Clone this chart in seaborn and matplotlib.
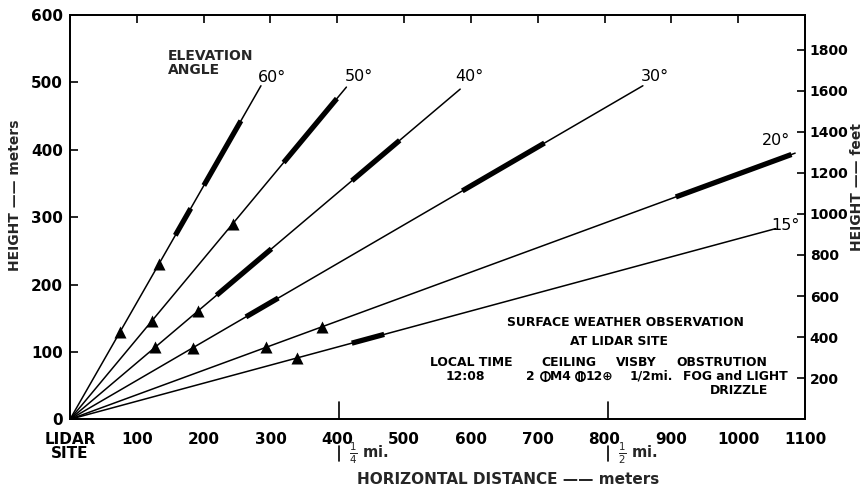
import numpy as np
import pandas as pd
import matplotlib
matplotlib.use("Agg")
import matplotlib.pyplot as plt
from matplotlib.path import Path
import seaborn as sns

# ---------------- data ----------------
angles = [60, 50, 40, 30, 20, 15]
angle_labels = ["60°", "50°", "40°", "30°", "20°", "15°"]
line_end_heights = [495, 493, 490, 495, 395, 283]          # m, where each beam line ends

thick_angle = [60, 60, 50, 40, 40, 30, 30, 20, 15]
thick_start = [273, 347, 381, 184, 354, 152, 339, 330, 113]  # m (height)
thick_end = [313, 443, 476, 253, 414, 180, 410, 393, 126]

tri_angle = [60, 60, 50, 50, 40, 40, 30, 20, 20, 15]
tri_height = [130, 230, 146, 290, 107, 161, 106, 107, 137, 91]

x_ticks = [0, 100, 200, 300, 400, 500, 600, 700, 800, 900, 1000, 1100]
x_tick_labels = ["LIDAR\nSITE", "100", "200", "300", "400", "500", "600",
                 "700", "800", "900", "1000", "1100"]
y_ticks = [0, 100, 200, 300, 400, 500, 600]
feet_ticks = [200, 400, 600, 800, 1000, 1200, 1400, 1600, 1800]
M_TO_FT = 3.28084
quarter_mile = 402.3
half_mile = 804.7

# ceiling string: "2 (scattered) M4 (broken) 12 (overcast)"
ceiling_pieces = ["2 ", "scattered", "M4 ", "broken", "12⊕"]

# ---------------- figure ----------------
sns.set_style("white")
plt.rcParams["font.family"] = ["DejaVu Sans"]

fig = plt.figure(figsize=(8.65, 4.88), dpi=100)
ax = fig.add_axes([70 / 865, 1 - 419.3 / 488, 735 / 865, 404.3 / 488])
ax.set_xlim(0, 1100)
ax.set_ylim(0, 600)

rows = []
for a, hend in zip(angles, line_end_heights):
    t = np.tan(np.radians(a))
    rows.append(dict(angle=a, x=0.0, h=0.0))
    rows.append(dict(angle=a, x=hend / t, h=hend))
lines_df = pd.DataFrame(rows)
sns.lineplot(data=lines_df, x="x", y="h", units="angle", estimator=None,
             color="black", lw=1.1, ax=ax, sort=False)

rows = []
for i, (a, h0, h1) in enumerate(zip(thick_angle, thick_start, thick_end)):
    t = np.tan(np.radians(a))
    rows.append(dict(seg=i, x=h0 / t, h=h0))
    rows.append(dict(seg=i, x=h1 / t, h=h1))
thick_df = pd.DataFrame(rows)
sns.lineplot(data=thick_df, x="x", y="h", units="seg", estimator=None,
             color="black", lw=3.8, ax=ax, sort=False, solid_capstyle="butt")

tri_df = pd.DataFrame(dict(
    x=[h / np.tan(np.radians(a)) for a, h in zip(tri_angle, tri_height)],
    h=tri_height))
sns.scatterplot(data=tri_df, x="x", y="h", marker="^", s=75, color="black",
                linewidth=0, ax=ax, zorder=5)

# angle labels
angle_label_x = [303, 433, 598, 876, 1057, 1070]
angle_label_y = [507, 509, 509, 509, 414, 287]
for lab, lx, ly in zip(angle_labels, angle_label_x, angle_label_y):
    ax.text(lx, ly, lab, ha="center", va="center", fontsize=11.5, color="black")

ax.text(147, 529, "ELEVATION\nANGLE", ha="left", va="center", fontsize=10,
        fontweight="bold", linespacing=0.95)

# weather observation block
tb = dict(ha="center", va="center", fontsize=8.9, fontweight="bold", color="black")
ax.text(832, 143, "SURFACE WEATHER OBSERVATION", **tb)
ax.text(822, 116, "AT LIDAR SITE", **tb)
ax.text(601, 84, "LOCAL TIME", **tb)
ax.text(592, 64, "12:08", **tb)
ax.text(747, 84, "CEILING", **tb)
ax.text(848, 84, "VISBY", **tb)
ax.text(870, 64, "1/2mi.", **tb)
ax.text(975, 84, "OBSTRUTION", **tb)
ax.text(996, 64, "FOG and LIGHT", **tb)
ax.text(1001, 43, "DRIZZLE", **tb)


# cloud-cover symbols (circle with one / two vertical bars) have no font glyph
def cover_marker(nbars):
    circ = Path.unit_circle()
    verts = [circ.vertices]
    codes = [circ.codes]
    xs = [0.0] if nbars == 1 else [-0.3, 0.3]
    for xb in xs:
        verts.append(np.array([[xb, -1.0], [xb, 1.0]]))
        codes.append(np.array([Path.MOVETO, Path.LINETO]))
    return Path(np.concatenate(verts), np.concatenate(codes))


ren = fig.canvas.get_renderer()
px_per_unit = ax.transData.transform((1, 0))[0] - ax.transData.transform((0, 0))[0]
sym_w = 10.5
objs, widths = [], []
for p in ceiling_pieces:
    if p in ("scattered", "broken"):
        objs.append(None)
        widths.append(sym_w)
    else:
        t = ax.text(0, 64, p, ha="left", va="center", fontsize=8.9,
                    fontweight="bold", color="black")
        objs.append(t)
        widths.append(t.get_window_extent(ren).width)
xcur = 748 - sum(widths) / 2 / px_per_unit
for p, o, w in zip(ceiling_pieces, objs, widths):
    if o is None:
        ax.plot([xcur + w / 2 / px_per_unit], [64.5], ls="none",
                marker=cover_marker(1 if p == "scattered" else 2), ms=6.6,
                mfc="none", mec="black", mew=1.2, clip_on=False)
    else:
        o.set_x(xcur)
    xcur += w / px_per_unit

# axes ticks
ax.set_xticks(x_ticks)
ax.set_xticklabels(x_tick_labels)
ax.set_yticks(y_ticks)
ax.set_yticklabels([str(v) for v in y_ticks])
ax.set_xlabel("")
ax.set_ylabel("")
ax.tick_params(axis="x", direction="in", length=6, width=1.2, top=True,
               labelsize=11, pad=9, colors="black")
ax.tick_params(axis="y", direction="in", length=6, width=1.2, right=False,
               labelsize=11, pad=5, colors="black")
for lab in ax.get_xticklabels() + ax.get_yticklabels():
    lab.set_fontweight("bold")
ax.get_xticklabels()[0].set_linespacing(0.9)
for s in ax.spines.values():
    s.set_color("black")
    s.set_linewidth(1.3)

ax2 = ax.twinx()
ax2.set_ylim(0, 600 * M_TO_FT)
ax2.set_yticks(feet_ticks)
ax2.set_yticklabels([str(v) for v in feet_ticks])
ax2.tick_params(axis="y", direction="in", length=6, width=1.2, labelsize=10,
                pad=3.5, colors="black")
for lab in ax2.get_yticklabels():
    lab.set_fontweight("bold")
for s in ax2.spines.values():
    s.set_color("black")
    s.set_linewidth(1.3)

# quarter / half mile markers
tr = ax.get_xaxis_transform()
for xm, frac in [(quarter_mile, r"$\frac{1}{4}$ mi."), (half_mile, r"$\frac{1}{2}$ mi.")]:
    ax.plot([xm, xm], [0.0, 0.043], transform=tr, color="black", lw=1.2, clip_on=False)
    ax.plot([xm, xm], [-0.066, -0.104], transform=tr, color="black", lw=1.2, clip_on=False)
    ax.text(xm + 15, -0.083, frac, transform=tr, ha="left", va="center",
            fontsize=10.5, fontweight="bold")

# axis titles
fig.text(15 / 865, 1 - 195 / 488, "HEIGHT —— meters", rotation=90, ha="center",
         va="center", fontsize=10, fontweight="bold")
fig.text(857 / 865, 1 - 187 / 488, "HEIGHT —— feet", rotation=90, ha="center",
         va="center", fontsize=10, fontweight="bold")
fig.text(508 / 865, 1 - 480 / 488, "HORIZONTAL DISTANCE —— meters", ha="center",
         va="center", fontsize=11, fontweight="bold")

fig.savefig("out.png", dpi=100, facecolor="white")
